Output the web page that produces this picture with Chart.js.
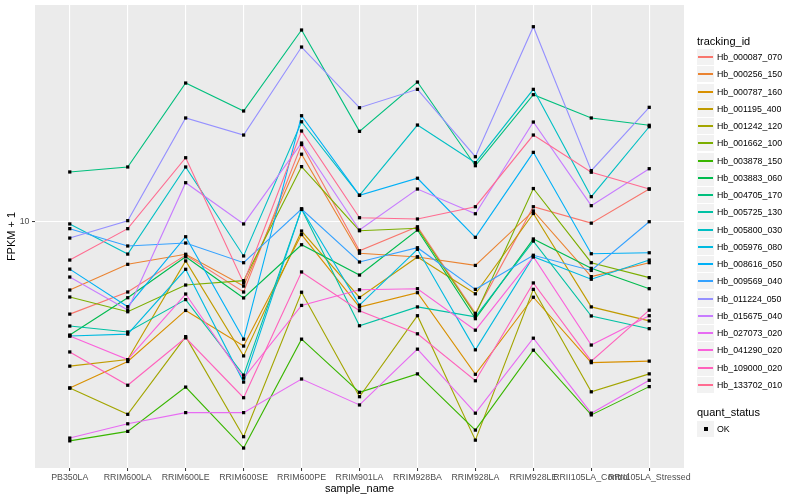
<!DOCTYPE html>
<html>
<head>
<meta charset="utf-8">
<script src="https://cdn.jsdelivr.net/npm/chart.js@4/dist/chart.umd.min.js"></script>
<style>
    body { margin: 0; background: #fff; font-family: "Liberation Sans", Arial, sans-serif; }
    #wrap { position: relative; width: 800px; height: 500px; }
    .lg-title { position: absolute; left: 697px; font-size: 11px; line-height: 13px; color: #000; white-space: nowrap; }
    .lg-row { position: absolute; left: 697px; height: 16px; display: flex; align-items: center; white-space: nowrap; }
    .lg-key { position: relative; width: 17px; height: 16px; background: #f2f2f2; flex: none; }
    .lg-line { position: absolute; left: 1px; width: 15px; top: 7px; height: 2px; }
    .lg-dot { position: absolute; left: 7px; top: 6px; width: 4px; height: 4px; background: #000; }
    .lg-label { margin-left: 3px; font-size: 8.8px; line-height: 16px; color: #000; }
</style>
</head>
<body>
<div id="wrap">
    <canvas id="chart" width="800" height="500"></canvas>
    <div id="legend"></div>
</div>
<script>
// x categories
const samples = ['PB350LA', 'RRIM600LA', 'RRIM600LE', 'RRIM600SE', 'RRIM600PE', 'RRIM901LA',
    'RRIM928BA', 'RRIM928LA', 'RRIM928LE', 'RRII105LA_Control', 'RRII105LA_Stressed'];

const trackingIds = ['Hb_000087_070', 'Hb_000256_150', 'Hb_000787_160', 'Hb_001195_400', 'Hb_001242_120',
    'Hb_001662_100', 'Hb_003878_150', 'Hb_003883_060', 'Hb_004705_170', 'Hb_005725_130',
    'Hb_005800_030', 'Hb_005976_080', 'Hb_008616_050', 'Hb_009569_040', 'Hb_011224_050',
    'Hb_015675_040', 'Hb_027073_020', 'Hb_041290_020', 'Hb_109000_020', 'Hb_133702_010'];

// FPKM + 1 per sample
const hb_000087_070 = [4.92, 5.83, 7.74, 5.83, 18.08, 8.00, 9.62, 4.95, 11.22, 9.89, 12.85];
const hb_000256_150 = [5.92, 7.21, 7.79, 6.10, 16.79, 7.85, 7.63, 7.15, 10.86, 6.56, 7.30];
const hb_000787_160 = [2.79, 3.42, 5.06, 3.85, 9.06, 5.19, 5.80, 3.10, 5.60, 3.39, 3.43];
const hb_001195_400 = [3.30, 3.47, 7.40, 3.57, 9.31, 5.59, 7.63, 5.75, 10.65, 5.20, 4.67];
const hb_001242_120 = [2.79, 2.28, 4.14, 1.92, 5.82, 2.61, 4.86, 1.87, 5.95, 2.71, 3.11];
const hb_001662_100 = [5.61, 5.01, 6.15, 6.36, 15.26, 9.33, 9.51, 4.89, 12.90, 7.30, 6.51];
const hb_003878_150 = [1.86, 2.00, 2.81, 1.76, 4.06, 2.70, 3.11, 2.02, 3.73, 2.27, 2.82];
const hb_003883_060 = [4.19, 5.58, 7.64, 5.57, 8.38, 6.64, 9.38, 4.75, 8.76, 6.99, 5.98];
const hb_004705_170 = [14.65, 15.22, 28.99, 23.39, 43.55, 20.01, 29.21, 15.37, 26.51, 22.17, 20.96];
const hb_005725_130 = [4.49, 4.29, 5.50, 3.08, 11.02, 4.50, 5.20, 4.82, 8.62, 4.85, 4.40];
const hb_005800_030 = [9.83, 7.80, 15.22, 7.69, 21.54, 12.25, 21.00, 15.73, 27.62, 12.12, 20.73];
const hb_005976_080 = [4.16, 4.22, 6.94, 2.92, 11.02, 5.27, 8.09, 3.74, 7.64, 6.43, 7.45];
const hb_008616_050 = [6.95, 5.21, 8.91, 4.06, 22.56, 12.25, 13.96, 8.87, 17.03, 7.82, 7.88];
const hb_009569_040 = [9.48, 8.30, 8.49, 7.30, 11.02, 7.34, 8.19, 5.95, 7.73, 6.88, 10.00];
const hb_011224_050 = [8.82, 10.08, 22.17, 19.45, 38.22, 23.99, 27.62, 16.47, 44.67, 14.80, 24.06];
const hb_015675_040 = [6.54, 5.08, 13.49, 9.83, 18.29, 9.38, 12.85, 10.63, 21.49, 11.31, 15.02];
const hb_027073_020 = [1.90, 2.12, 2.31, 2.31, 2.99, 2.45, 3.76, 2.30, 4.09, 2.30, 2.96];
const hb_041290_020 = [4.16, 3.47, 5.74, 3.01, 5.26, 5.93, 5.98, 4.35, 7.64, 3.88, 4.86];
const hb_109000_020 = [3.68, 2.85, 4.10, 2.59, 6.80, 5.05, 4.23, 2.95, 6.25, 3.43, 5.07];
const hb_133702_010 = [7.45, 9.48, 16.34, 6.25, 20.06, 10.31, 10.21, 11.22, 19.45, 14.62, 12.85];

const yTicks = [10];

const seriesValues = [hb_000087_070, hb_000256_150, hb_000787_160, hb_001195_400, hb_001242_120,
    hb_001662_100, hb_003878_150, hb_003883_060, hb_004705_170, hb_005725_130,
    hb_005800_030, hb_005976_080, hb_008616_050, hb_009569_040, hb_011224_050,
    hb_015675_040, hb_027073_020, hb_041290_020, hb_109000_020, hb_133702_010];

// ggplot default hue palette, 20 levels
const palette = ['#F8766D', '#EA8331', '#D89000', '#C09B00', '#A3A500', '#7CAE00', '#39B600', '#00BB4E',
    '#00BF7D', '#00C1A3', '#00BFC4', '#00BAE0', '#00B0F6', '#35A2FF', '#9590FF', '#C77CFF',
    '#E76BF3', '#FA62DB', '#FF62BC', '#FF6C91'];

const font = 'Liberation Sans, Arial, sans-serif';

// gray panel behind the plot area
const panelBg = {
    id: 'panelBg',
    beforeDraw(chart) {
        const { ctx, chartArea: a } = chart;
        ctx.save();
        ctx.fillStyle = '#EBEBEB';
        ctx.fillRect(a.left, a.top, a.right - a.left, a.bottom - a.top);
        ctx.restore();
    }
};

const lineSets = seriesValues.map((vals, i) => ({
    label: trackingIds[i],
    data: vals.map((v, j) => ({ x: j, y: v })),
    borderColor: palette[i],
    borderWidth: 1.1,
    pointRadius: 0,
    fill: false,
    tension: 0,
    order: seriesValues.length - i  // later levels on top, like ggplot
}));

const pointSet = {
    label: 'OK',
    type: 'scatter',
    data: seriesValues.flatMap(vals => vals.map((v, j) => ({ x: j, y: v }))),
    pointStyle: 'rect',
    pointRadius: 2.3,
    backgroundColor: '#000',
    borderColor: '#000',
    borderWidth: 0,
    showLine: false,
    order: 0
};

new Chart(document.getElementById('chart').getContext('2d'), {
    type: 'line',
    data: { datasets: [pointSet, ...lineSets] },
    options: {
        responsive: false,
        animation: false,
        devicePixelRatio: 1,
        layout: { padding: { left: 0, top: 5, right: 116, bottom: 0 } },
        plugins: { legend: { display: false }, tooltip: { enabled: false } },
        scales: {
            x: {
                type: 'linear',
                min: -0.6,
                max: 10.6,
                afterBuildTicks: s => { s.ticks = samples.map((c, i) => ({ value: i })); },
                afterFit: s => { s.height = 32; s.paddingLeft = 0; s.paddingRight = 0; },
                ticks: {
                    autoSkip: false, maxRotation: 0, padding: 1,
                    color: '#4D4D4D', font: { family: font, size: 8.8 },
                    callback: v => samples[v]
                },
                grid: { color: '#fff', lineWidth: 1.1, tickLength: 3, tickColor: '#333', tickWidth: 1 },
                border: { display: false },
                title: { display: true, text: 'sample_name', color: '#000', font: { family: font, size: 11 }, padding: { top: 0, bottom: 4 } }
            },
            y: {
                type: 'logarithmic',
                min: 1.51,
                max: 52.77,
                afterBuildTicks: s => { s.ticks = yTicks.map(v => ({ value: v })); },
                afterFit: s => { s.width = 35; s.paddingTop = 0; s.paddingBottom = 0; },
                ticks: {
                    padding: 2.5, color: '#4D4D4D', font: { family: font, size: 8.8 },
                    callback: v => String(v)
                },
                grid: { color: '#fff', lineWidth: 1.1, tickLength: 3, tickColor: '#333', tickWidth: 1 },
                border: { display: false },
                title: { display: true, text: 'FPKM + 1', color: '#000', font: { family: font, size: 11 }, padding: { top: 5.4, bottom: 0 } }
            }
        }
    },
    plugins: [panelBg]
});

// legend on the right, ggplot style
const legend = document.getElementById('legend');
function addTitle(text, centerY) {
    const t = document.createElement('div');
    t.className = 'lg-title';
    t.style.top = Math.round(centerY - 6.5) + 'px';
    t.textContent = text;
    legend.appendChild(t);
}
addTitle('tracking_id', 41);
trackingIds.forEach((id, i) => {
    const row = document.createElement('div');
    row.className = 'lg-row';
    row.style.top = Math.round(49 + i * 17.26) + 'px';
    row.innerHTML = `<div class="lg-key"><div class="lg-line" style="background:${palette[i]}"></div></div><span class="lg-label">${id}</span>`;
    legend.appendChild(row);
});
addTitle('quant_status', 412);
const ok = document.createElement('div');
ok.className = 'lg-row';
ok.style.top = '421px';
ok.innerHTML = `<div class="lg-key"><div class="lg-dot"></div></div><span class="lg-label">${pointSet.label}</span>`;
legend.appendChild(ok);
</script>
</body>
</html>
